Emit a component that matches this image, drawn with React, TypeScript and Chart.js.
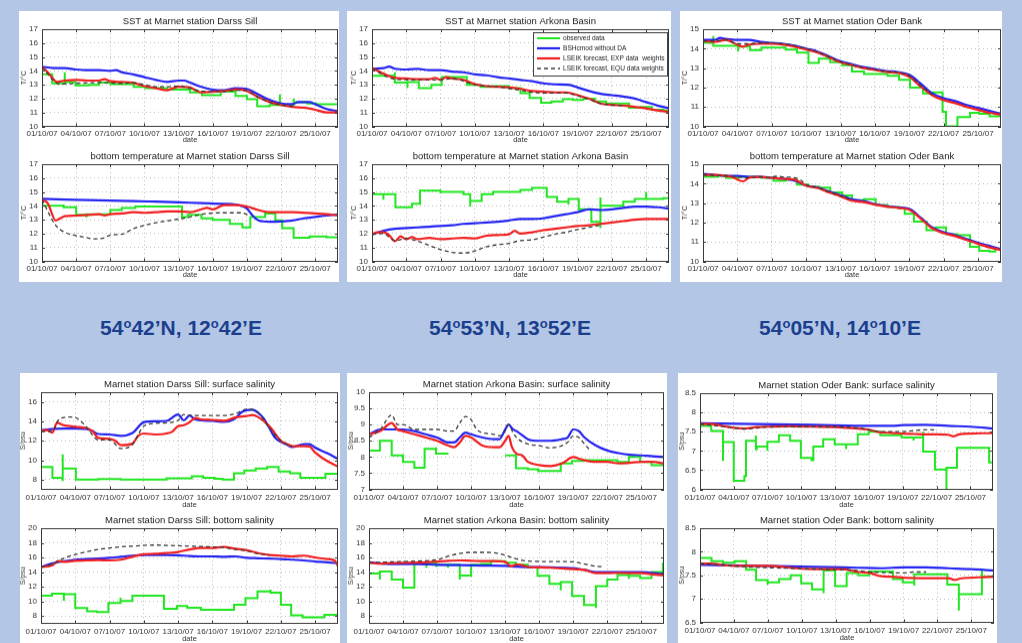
import React, { useEffect, useRef } from "react";
import { Chart, registerables } from "chart.js";

Chart.register(...registerables);

type Pt = [number, number | null];

const FONT = '"Liberation Sans", Arial, Helvetica, sans-serif';

// ---------- axis / label data ----------
const DAY_TICKS = [0, 3, 6, 9, 12, 15, 18, 21, 24];
const DAY_LABELS = ["01/10/07", "04/10/07", "07/10/07", "10/10/07", "13/10/07", "16/10/07", "19/10/07", "22/10/07", "25/10/07"];
const SERIES_NAMES = ["observed data", "BSHcmod without DA", "LSEIK forecast, EXP data  weights", "LSEIK forecast, EQU data weights"];

const TICKS_T17 = [10, 11, 12, 13, 14, 15, 16, 17];
const TICKS_T15 = [10, 11, 12, 13, 14, 15];
const TICKS_S17 = [8, 10, 12, 14, 16];
const TICKS_S20 = [8, 10, 12, 14, 16, 18, 20];
const TICKS_S10 = [7, 7.5, 8, 8.5, 9, 9.5, 10];
const TICKS_S85 = [6, 6.5, 7, 7.5, 8, 8.5];
const TICKS_S85B = [6.5, 7, 7.5, 8, 8.5];

// ---------- Darss Sill SST ----------
const darssSstObs: Pt[] = [[0,13.75],[0.9,13.1],[2,13.1],[2,13.9],[2,13.2],[2.95,12.95],[4.1,13.0],[5,13.15],[6,13.05],[8.05,12.85],[9.07,12.75],[11,12.65],[13,12.45],[14.05,12.25],[15.7,12.5],[17,12.2],[18,11.95],[18.9,11.45],[20,11.55],[20.9,11.55],[20.9,12.3],[20.9,11.55],[22.1,11.75],[22.1,12.0],[22.1,11.75],[23.3,11.65],[24.1,11.6],[26,11.6]];
const darssSstBsh: Pt[] = [[0,14.3],[1,14.2],[2,14.2],[3,14.1],[4,14.05],[5,14.05],[6,14.0],[6.5,14.05],[7,13.9],[8,13.75],[9,13.55],[10,13.35],[11,13.2],[12,13.3],[12.5,13.3],[13,13.15],[14,12.85],[15,12.65],[16,12.6],[17,12.75],[18,12.7],[19,12.3],[20,11.9],[21,11.65],[22,11.6],[22.5,11.75],[23.5,11.75],[24,11.6],[25,11.25],[26,11.1]];
const darssSstExp: Pt[] = [[0,14.3],[0.5,13.9],[1,13.4],[1.3,13.2],[2,13.3],[3,13.35],[4,13.3],[5,13.3],[5.5,13.4],[6,13.25],[7,13.2],[8,13.15],[9,12.9],[10,12.75],[11,12.6],[11.5,12.75],[12,12.85],[13,12.8],[13.5,12.6],[14,12.45],[15,12.5],[16,12.55],[17,12.65],[18,12.55],[19,12.1],[20,11.75],[21,11.55],[22,11.4],[23,11.35],[24,11.2],[25,11.0],[25.7,11.0],[26,11.05]];
const darssSstEqu: Pt[] = [[0,14.3],[1,13.3],[1.5,13.05],[3,13.1],[5,13.15],[7,13.1],[8,13.15],[9,13.0],[10,12.85],[11,12.85],[12,12.9],[13,12.75],[14,12.55],[16,12.5],[17,12.6],[18,12.55],[19,12.1],[20,11.75],[21,11.55],[22,11.45]];

// ---------- Darss Sill bottom temperature ----------
const darssBtObs: Pt[] = [[0,14.0],[1.9,14.0],[1.9,14.1],[1.9,13.9],[3.0,13.35],[3.9,13.35],[3.9,13.15],[3.9,13.4],[6.0,13.7],[7.0,13.85],[8.2,13.95],[12.3,13.2],[12.8,13.35],[14.0,13.1],[15.0,13.0],[16.5,12.7],[17.6,12.45],[18.3,13.2],[19.6,13.45],[20.5,12.95],[21.1,12.4],[22.1,11.7],[23.5,11.8],[25.0,11.75],[26,11.75]];
const darssBtBsh: Pt[] = [[0,14.5],[2,14.45],[5,14.4],[8,14.35],[10,14.3],[12,14.25],[14,14.2],[16,14.15],[17,14.1],[17.5,14.0],[18,13.8],[18.5,13.3],[19,12.95],[20,12.85],[21,12.88],[22,12.95],[23,13.1],[24,13.2],[25,13.3],[26,13.38]];
const darssBtExp: Pt[] = [[0,14.45],[0.5,14.2],[1.2,12.95],[1.6,13.1],[2,13.25],[3,13.3],[4,13.35],[5,13.4],[5.5,13.3],[6,13.4],[7,13.45],[8,13.55],[9,13.5],[10,13.55],[11,13.6],[12,13.6],[13,13.55],[14,13.75],[14.5,13.85],[15,13.75],[16,14.05],[17,14.05],[18,13.95],[19,13.7],[20,13.55],[22,13.55],[24,13.45],[25,13.4],[26,13.3]];
const darssBtEqu: Pt[] = [[0,14.45],[1.2,12.6],[2,12.1],[3,11.85],[4,11.7],[4.5,11.62],[5.5,11.7],[6,11.9],[7,11.95],[8,12.35],[9.5,12.7],[10.5,12.85],[12,13.05],[13,13.2],[13.5,13.3],[14.5,13.45],[16,13.5],[17.5,13.5],[18.2,13.3]];

// ---------- Arkona Basin SST ----------
const arkonaSstObs: Pt[] = [[0,13.65],[2.0,13.65],[2.0,13.9],[2.0,13.15],[3.1,13.15],[3.1,12.75],[3.1,13.2],[4.1,12.75],[5.2,13.0],[6.1,13.55],[8.3,13.0],[9.5,12.85],[10.5,12.9],[12,12.75],[13,12.4],[13.8,12.05],[14.8,11.7],[15.7,11.8],[16.7,11.95],[17.6,11.9],[18.5,12.0],[19.5,11.8],[20.5,11.65],[21.5,11.65],[22.5,11.35],[23.5,11.4],[24.5,11.2],[25.5,11.15],[26,11.15]];
const arkonaSstBsh: Pt[] = [[0,14.15],[1,14.2],[1.5,14.3],[2,14.15],[3,14.1],[4,14.15],[5,14.05],[6,14.05],[7,13.95],[8,13.9],[9,13.75],[10,13.68],[11,13.55],[12,13.45],[13,13.35],[14,13.25],[15,13.1],[16,13.03],[17,13.0],[17.5,12.95],[18,12.8],[19,12.55],[20,12.35],[21,12.25],[22,12.15],[23,12.0],[24,11.75],[25,11.5],[26,11.3]];
const arkonaSstExp: Pt[] = [[0,14.2],[1,13.8],[2,13.5],[3,13.45],[4,13.4],[5,13.4],[5.5,13.5],[6,13.35],[6.5,13.55],[7,13.45],[8,13.35],[9,13.05],[10,12.9],[11,12.85],[12,12.8],[13,12.7],[14,12.55],[15,12.5],[16,12.45],[17,12.45],[18,12.25],[19,12.0],[20,11.65],[21,11.55],[22,11.5],[23,11.4],[24,11.3],[25,11.15],[26,11.05]];
const arkonaSstEqu: Pt[] = [[0,14.2],[1,13.7],[2,13.4],[4,13.35],[6,13.35],[7,13.45],[9,13.0],[11,12.85],[13,12.6],[14,12.45],[16,12.4],[17,12.4],[18,12.2],[19,11.95],[20,11.65],[21,11.55],[22,11.5]];

// ---------- Arkona Basin bottom temperature ----------
const arkonaBtObs: Pt[] = [[0,14.85],[1.0,14.85],[1.0,14.45],[1.0,14.85],[2.05,13.9],[3.5,14.15],[4.2,15.1],[6.0,15.05],[6.0,14.9],[6.0,15.0],[7.0,15.0],[8.0,14.85],[8.6,14.3],[8.6,13.95],[8.6,14.35],[9.6,14.85],[10.6,15.0],[13.0,15.15],[14.0,15.3],[15.3,14.65],[16.2,14.3],[17.2,14.3],[17.2,14.1],[17.2,14.5],[18.1,13.75],[18.1,14.0],[18.1,13.75],[19.2,12.85],[20.0,12.85],[20.0,14.6],[20.0,12.4],[20.0,14.0],[21.1,14.0],[22.0,14.3],[23.0,14.5],[24.0,14.65],[24.0,15.0],[24.0,14.5],[25.5,14.55],[26,14.7]];
const arkonaBtBsh: Pt[] = [[0,11.95],[1,12.2],[2,12.35],[3,12.4],[4,12.45],[5,12.5],[6,12.55],[7,12.6],[8,12.7],[9,12.75],[10,12.8],[11,12.85],[12,12.95],[13,13.05],[14,13.05],[15,13.1],[16,13.25],[17,13.4],[18,13.55],[19,13.75],[20,13.7],[21,13.75],[22,13.85],[23,13.95],[24,13.95],[25,13.9],[26,13.8]];
const arkonaBtExp: Pt[] = [[0,11.95],[0.5,12.1],[1,12.1],[1.5,11.9],[2,11.45],[2.5,11.8],[3,11.6],[3.5,11.75],[4,11.6],[5,11.7],[6,11.6],[7,11.65],[8,11.7],[9,11.65],[10,11.85],[11,11.9],[12,11.95],[12.5,12.2],[13,12.0],[14,12.1],[15,12.25],[16,12.35],[17,12.45],[18,12.55],[19,12.6],[20,12.7],[21,12.8],[22,12.9],[23,13.0],[24,13.05],[25,13.05],[26,13.05]];
const arkonaBtEqu: Pt[] = [[0,11.95],[1,12.0],[2,11.5],[3,11.65],[4,11.45],[5,11.15],[6,10.85],[7,10.65],[8,10.6],[9,10.75],[10,11.05],[11,11.2],[12,11.3],[13,11.5],[14,11.55],[15,11.75],[16,11.95],[17,12.1],[18,12.3],[19,12.45],[20,12.6]];

// ---------- Oder Bank SST ----------
const oderSstObs: Pt[] = [[0,14.3],[0.9,14.3],[0.9,14.65],[0.9,14.15],[3.07,14.15],[3.07,13.85],[3.07,14.1],[4.1,13.92],[5.1,14.05],[6.15,14.05],[7.2,13.95],[8.2,13.8],[9.2,13.26],[10.1,13.49],[11.1,13.3],[12.15,13.15],[13.0,12.83],[14.05,12.7],[15.07,12.7],[16.1,12.6],[17.1,12.4],[18.06,12.0],[19.2,11.7],[20.05,11.75],[20.9,10.75],[21.2,10.0],[22.2,10.48],[23.3,10.7],[24.1,10.65],[25.0,10.52],[26,10.5]];
const oderSstBsh: Pt[] = [[0,14.45],[1,14.45],[1.5,14.55],[2,14.5],[3,14.45],[4,14.45],[5,14.35],[6,14.3],[7,14.25],[8,14.15],[9,14.0],[10,13.85],[11,13.6],[12,13.35],[13,13.2],[14,13.05],[15,12.95],[16,12.85],[17,12.8],[18,12.65],[19,12.2],[20,11.7],[21,11.45],[22,11.3],[23,11.1],[24,10.95],[25,10.8],[26,10.65]];
const oderSstExp: Pt[] = [[0,14.4],[1,14.35],[2,14.45],[3,14.2],[3.5,14.1],[4,14.2],[5,14.25],[6,14.25],[7,14.2],[8,14.1],[9,13.95],[10,13.8],[11,13.55],[12,13.3],[13,13.15],[14,13.0],[15,12.9],[16,12.8],[17,12.75],[18,12.55],[19,12.05],[20,11.6],[21,11.35],[22,11.2],[23,11.0],[24,10.85],[25,10.7],[26,10.6]];
const oderSstEqu: Pt[] = [[0,14.4],[1,14.4],[2,14.45],[3,14.25],[4,14.25],[5,14.3],[6,14.3],[7,14.25],[8,14.15],[9,14.0],[10,13.82],[11,13.58],[12,13.32],[13,13.17],[14,13.02],[15,12.92],[16,12.82],[17,12.77],[18,12.6],[19,12.1],[20,11.62]];

// ---------- Oder Bank bottom temperature ----------
const oderBtObs: Pt[] = [[0,14.35],[1.3,14.4],[2,14.3],[3.1,14.35],[5.1,14.3],[6.15,14.15],[7.2,14.2],[8.2,13.95],[9.2,13.85],[10.1,13.8],[11.1,13.55],[12.15,13.4],[13.0,13.15],[14.05,13.2],[15.07,12.9],[16.1,12.8],[17.1,12.75],[17.6,12.45],[18.4,12.05],[19.5,11.6],[20.3,11.75],[21.2,11.4],[22.2,11.35],[23.3,10.75],[24.1,10.55],[25,10.5],[25.5,10.65],[26,10.55]];
const oderBtBsh: Pt[] = [[0,14.5],[1,14.45],[2,14.4],[3,14.4],[4,14.35],[5,14.35],[6,14.3],[7,14.25],[8,14.15],[9,13.9],[10,13.8],[11,13.6],[12,13.4],[13,13.2],[14,13.1],[15,12.95],[16,12.85],[17,12.78],[18,12.7],[19,12.25],[20,11.75],[21,11.5],[22,11.35],[23,11.15],[24,10.95],[25,10.8],[26,10.62]];
const oderBtExp: Pt[] = [[0,14.45],[1,14.45],[2,14.4],[2.5,14.35],[3.5,14.12],[4,14.3],[5,14.35],[6,14.3],[7,14.25],[8,14.2],[9,13.9],[10,13.78],[11,13.55],[12,13.35],[13,13.12],[14,13.05],[15,12.92],[16,12.82],[17,12.75],[18,12.65],[19,12.2],[20,11.7],[21,11.45],[22,11.3],[23,11.1],[24,10.9],[25,10.72],[26,10.58]];
const oderBtEqu: Pt[] = [[0,14.45],[2,14.4],[3,14.35],[4,14.3],[5,14.35],[6,14.35],[6.5,14.38],[7,14.35],[8,14.3],[8.5,14.2],[9,13.95],[10,13.8],[11,13.58],[12,13.38],[13,13.15]];

// ---------- Darss Sill surface salinity ----------
const darssSsObs: Pt[] = [[0,9.3],[1,8.2],[1.9,8.2],[1.9,10.6],[1.9,7.85],[1.9,9.15],[3.05,9.0],[3.05,8.0],[5,8.05],[7,8.0],[10.5,8.0],[11,8.15],[13.2,8.35],[14.2,8.2],[15.2,8.1],[15.9,8.0],[16.9,8.65],[17.8,8.95],[18.8,9.15],[19.8,9.3],[20.8,8.85],[21.8,8.65],[22.7,8.2],[24.9,8.6],[26,8.6]];
const darssSsBsh: Pt[] = [[0,13.1],[1,13.2],[2,13.25],[3,13.25],[4,13.2],[4.5,13.0],[5,12.7],[6,12.65],[7,12.5],[8,12.8],[9,13.9],[10,14.0],[11,14.05],[12,14.7],[12.5,14.1],[13,14.6],[13.5,14.2],[14,14.1],[15,14.05],[16,13.95],[17,14.3],[17.5,14.9],[18,15.15],[18.5,15.2],[19,14.9],[19.5,14.3],[20,13.3],[20.5,12.3],[21,11.9],[21.5,11.6],[22,11.35],[23,11.65],[23.5,11.65],[24,11.3],[25,10.75],[26,10.15]];
const darssSsExp: Pt[] = [[0,13.0],[0.5,13.1],[1,12.85],[1.4,13.85],[2,13.6],[3,13.45],[4,13.3],[4.5,13.0],[5,12.3],[6,12.2],[6.5,12.0],[7,11.55],[8,11.7],[8.5,12.5],[9,12.75],[10,12.65],[11,12.75],[11.5,12.95],[12,13.5],[12.5,13.6],[13,13.9],[13.5,14.35],[14,14.2],[15,14.15],[16,14.05],[17,14.4],[18,14.55],[18.5,14.65],[19,14.45],[20,13.5],[21,12.0],[21.5,11.7],[22,11.45],[23,11.45],[23.5,11.4],[24,10.8],[25,9.95],[26,9.35]];
const darssSsEqu: Pt[] = [[0,12.95],[1,12.95],[1.5,14.1],[2,14.4],[2.5,14.45],[3,14.4],[3.5,14.0],[4,13.4],[5,12.1],[6,12.1],[7,11.2],[8,11.6],[9,13.5],[10,13.8],[11,13.85],[12,14.1],[12.5,14.7],[13,14.6],[14,14.6],[15,14.6],[16,14.6],[17,14.8],[18,15.25],[19,14.9],[20,13.3],[21,12.0],[22,11.4]];

// ---------- Darss Sill bottom salinity ----------
const darssBsObs: Pt[] = [[0,10.8],[0.96,11.05],[2,11.05],[2,10.1],[2,11.0],[3,9.1],[4.04,8.65],[4.9,8.55],[5.9,9.77],[6.96,10.05],[6.96,10.5],[6.96,10.05],[8,10.8],[10.76,9.0],[11.9,9.36],[12.8,9.14],[14,8.86],[16.9,9.55],[17.9,10.45],[18.95,11.36],[20.1,11.18],[20.1,11.6],[20.1,11.18],[21,9.55],[21.9,8.1],[22.9,7.82],[24.8,8.18],[26,8.2]];
const darssBsBsh: Pt[] = [[0,14.7],[1,15.2],[2,15.5],[3,15.7],[4,15.8],[5,15.85],[6,15.95],[7,16.1],[8,16.25],[9,16.35],[10,16.35],[11,16.35],[12,16.3],[13,16.2],[14,16.15],[15,16.15],[16,16.1],[17,16.15],[18,15.95],[19,15.9],[20,15.85],[21,15.8],[22,15.7],[23,15.6],[24,15.45],[25,15.35],[26,15.2]];
const darssBsExp: Pt[] = [[0,14.7],[1,14.95],[1.5,15.5],[2,15.4],[3,15.55],[4,15.6],[5,15.65],[6,15.6],[7,15.7],[8,16.1],[9,16.45],[10,16.5],[11,16.6],[12,16.75],[13,17.1],[14,17.3],[15,17.3],[16,17.45],[17,17.2],[18,17.0],[19,16.6],[20,16.35],[21,16.25],[22,16.15],[23,16.25],[24,16.0],[25,15.8],[25.7,15.6],[26,14.8]];
const darssBsEqu: Pt[] = [[0,14.7],[1,15.1],[2,15.9],[3,16.4],[4,16.8],[5,17.1],[6,17.3],[7,17.45],[8,17.55],[9,17.65],[10,17.7],[11,17.65],[12,17.6],[13,17.55],[14,17.5],[15,17.45],[16,17.35],[17,17.1],[18,16.9],[19,16.5],[20,16.3]];

// ---------- Arkona Basin surface salinity ----------
const arkonaSsObs: Pt[] = [[0,8.2],[0.96,8.5],[2.0,8.05],[3.0,7.85],[4.0,7.67],[4.9,8.25],[5.9,8.3],[5.9,8.1],[7.0,8.1],[7.0,null],[12.0,null],[12.0,8.05],[12.95,7.65],[14.0,7.62],[14.9,7.57],[16.9,7.8],[17.9,7.88],[18.9,7.9],[21.9,7.85],[22.9,8.0],[23.9,7.85],[24.9,7.75],[26,7.75]];
const arkonaSsBsh: Pt[] = [[0,8.7],[1,8.85],[2,8.85],[3,8.85],[4,8.8],[5,8.7],[6,8.6],[7,8.45],[7.5,8.45],[8,8.6],[8.5,8.75],[9,8.7],[10,8.6],[11,8.55],[11.5,8.55],[12,8.85],[12.3,9.0],[12.7,8.85],[13,8.8],[14,8.55],[15,8.5],[16,8.5],[17,8.55],[17.5,8.6],[18,8.85],[18.5,8.8],[19,8.6],[20,8.35],[21,8.2],[22,8.12],[23,8.07],[24,8.05],[25,8.02],[26,8.0]];
const arkonaSsExp: Pt[] = [[0,8.7],[1,8.8],[2,9.05],[2.5,8.85],[3,8.8],[4,8.7],[5,8.6],[6,8.5],[7,8.35],[7.5,8.3],[8,8.45],[8.5,8.65],[9,8.6],[10,8.35],[11,8.3],[11.5,8.3],[12,8.5],[12.3,8.65],[12.6,8.3],[13,8.1],[13.5,8.05],[14,7.85],[15,7.75],[16,7.72],[17,7.8],[18,8.0],[18.5,7.95],[19,7.9],[20,7.85],[21,7.85],[22,7.8],[23,7.82],[24,7.85],[25,7.85],[26,7.8]];
const arkonaSsEqu: Pt[] = [[0,8.6],[1,8.85],[2,9.3],[2.5,9.0],[3,9.0],[4,8.85],[5,8.85],[6,8.85],[7,8.8],[7.5,8.8],[8,9.05],[8.5,9.25],[9,9.15],[9.5,8.85],[10,8.75],[11,8.7],[11.5,8.65],[12,8.8],[12.3,9.0],[12.7,8.75],[13,8.6],[14,8.4],[15,8.35],[16,8.28],[17,8.35],[17.5,8.45],[18,8.65],[18.5,8.6],[19,8.4],[19.5,8.2]];

// ---------- Arkona Basin bottom salinity ----------
const arkonaBsObs: Pt[] = [[0,13.8],[0.96,13.8],[0.96,13.0],[0.96,14.1],[2.0,13.0],[3.0,11.9],[4.0,15.3],[5.06,15.0],[5.06,14.6],[5.06,15.2],[5.94,14.7],[5.94,15.4],[5.94,15.0],[6.96,14.6],[6.96,15.0],[8.0,13.55],[8.0,13.0],[8.0,13.55],[9.0,15.0],[9.9,15.1],[10.76,15.5],[12.0,15.3],[12.95,15.0],[14.0,14.65],[14.85,13.5],[15.9,12.4],[16.9,12.65],[16.9,11.5],[16.9,12.65],[17.9,10.75],[18.95,9.5],[20.0,9.1],[20.0,12.1],[21.0,13.0],[21.9,13.6],[22.9,13.5],[22.9,13.1],[22.9,13.5],[23.9,13.2],[24.9,14.0],[25.9,14.0],[25.9,15.3]];
const arkonaBsBsh: Pt[] = [[0,15.35],[2,15.1],[4,15.1],[6,15.0],[8,14.95],[10,14.9],[12,14.85],[13,14.75],[14,14.7],[16,14.65],[18,14.55],[19,14.3],[20,14.0],[22,14.0],[24,14.0],[26,13.7]];
const arkonaBsExp: Pt[] = [[0,15.3],[1,15.15],[2,15.25],[4,15.3],[5,15.35],[6,15.45],[7,15.55],[8,15.6],[9,15.55],[10,15.5],[11,15.5],[12,15.4],[12.5,14.8],[13,15.05],[13.5,14.95],[14,14.7],[15,14.65],[16,14.6],[17,14.5],[18,14.4],[19,14.3],[20,13.85],[21,13.85],[22,13.9],[23,13.85],[24,13.85],[25,13.7],[26,13.55]];
const arkonaBsEqu: Pt[] = [[0,15.3],[2,15.4],[4,15.5],[6,15.7],[7,16.2],[8,16.55],[9,16.7],[10,16.7],[11,16.65],[12,16.3],[13,15.8],[14,15.5],[16,15.45],[18,15.4],[19,15.1],[20,14.8],[20.5,14.75]];

// ---------- Oder Bank surface salinity ----------
const oderSsObs: Pt[] = [[0,7.82],[0,7.65],[1.0,7.52],[2.04,7.52],[2.04,6.74],[2.04,7.23],[3.0,6.22],[3.94,6.35],[4.08,7.26],[4.96,7.26],[4.96,7.4],[4.96,7.05],[5.04,7.11],[5.98,7.11],[5.98,7.0],[5.98,7.24],[7.0,7.41],[8.0,7.26],[8.95,6.82],[9.9,6.76],[10.06,7.11],[10.93,7.3],[11.95,7.17],[12.97,7.17],[12.97,7.05],[12.97,7.17],[14.0,7.43],[14.96,7.5],[16.0,7.41],[17.9,7.35],[18.95,7.35],[18.95,7.27],[18.95,7.35],[19.8,7.35],[19.8,7.5],[19.8,6.98],[20.85,6.52],[21.87,6.52],[21.87,6.0],[21.87,6.56],[22.8,7.08],[25.66,7.08],[25.66,6.7],[26,6.7]];
const oderSsBsh: Pt[] = [[0,7.72],[5,7.7],[10,7.68],[15,7.65],[17,7.65],[18,7.67],[20,7.68],[22,7.65],[24,7.63],[26,7.58]];
const oderSsExp: Pt[] = [[0,7.7],[1,7.7],[2,7.65],[3,7.6],[4,7.58],[5,7.62],[6,7.63],[8,7.64],[10,7.63],[12,7.62],[13,7.6],[14,7.58],[15,7.55],[16,7.48],[17,7.47],[18,7.45],[19,7.44],[20,7.43],[21,7.43],[22,7.42],[22.5,7.38],[23,7.43],[24,7.45],[25,7.46],[26,7.46]];
const oderSsEqu: Pt[] = [[0,7.7],[3,7.6],[4,7.57],[6,7.62],[10,7.63],[14,7.6],[15,7.55],[16,7.5],[18,7.5],[19,7.53],[20,7.55],[21,7.55]];

// ---------- Oder Bank bottom salinity ----------
const oderBsObs: Pt[] = [[0,7.87],[1.02,7.8],[2.04,7.77],[3.06,7.8],[4.08,7.62],[4.96,7.4],[5.98,7.4],[5.98,7.3],[5.98,7.35],[7.0,7.42],[8.02,7.5],[8.95,7.33],[9.91,7.2],[10.93,7.12],[10.93,7.6],[11.95,7.27],[12.97,7.55],[14.0,7.5],[14.96,7.58],[17.06,7.42],[17.93,7.35],[18.95,7.28],[18.95,7.52],[21.87,7.5],[21.87,7.3],[22.89,7.08],[22.89,6.75],[22.89,7.1],[24.93,7.1],[24.93,7.6],[24.93,7.47],[26,7.47]];
const oderBsBsh: Pt[] = [[0,7.72],[5,7.7],[10,7.68],[14,7.66],[16,7.65],[18,7.67],[20,7.67],[22,7.65],[24,7.63],[26,7.6]];
const oderBsExp: Pt[] = [[0,7.75],[1,7.75],[2,7.72],[3,7.7],[4,7.7],[6,7.7],[8,7.66],[10,7.63],[12,7.63],[13,7.62],[14,7.57],[15,7.55],[16,7.48],[17,7.47],[18,7.45],[20,7.44],[22,7.44],[22.5,7.4],[23,7.43],[24,7.45],[25,7.46],[26,7.47]];
const oderBsEqu: Pt[] = [[0,7.75],[2,7.72],[4,7.68],[8,7.65],[12,7.62],[14,7.6],[15,7.57],[16,7.56],[18,7.55],[19,7.57],[20,7.57]];

// ---------- layout (styles, not data) ----------
const BG = "#b3c6e6";
const TP = 22; // space above plot area
const YW = 26; // y axis box width
const RP = 3;  // right padding

const SERIES_STYLE = [
  { color: "#22e622", width: 2, dash: [] as number[], order: 3, stepped: true },
  { color: "#2424f0", width: 2.2, dash: [] as number[], order: 2, stepped: false },
  { color: "#f02020", width: 2.2, dash: [] as number[], order: 1, stepped: false },
  { color: "#3c3c3c", width: 1.3, dash: [4, 3], order: 0, stepped: false },
];

type Panel = {
  title: string; yTitle: string; yMin: number; yMax: number; yTicks: number[];
  area: [number, number, number, number]; series: Pt[][]; labelPad: number; xh: number; legend?: boolean;
};

const PANELS: Panel[] = [
  { title: "SST at Marnet station Darss Sill", yTitle: "T/°C", yMin: 10, yMax: 17, yTicks: TICKS_T17, area: [42, 29, 338, 126], series: [darssSstObs, darssSstBsh, darssSstExp, darssSstEqu], labelPad: 2, xh: 17.5 },
  { title: "bottom temperature at Marnet station Darss Sill", yTitle: "T/°C", yMin: 10, yMax: 17, yTicks: TICKS_T17, area: [42, 164, 338, 261], series: [darssBtObs, darssBtBsh, darssBtExp, darssBtEqu], labelPad: 2, xh: 17.5 },
  { title: "SST at Marnet station Arkona Basin", yTitle: "T/°C", yMin: 10, yMax: 17, yTicks: TICKS_T17, area: [372, 29, 669, 126], series: [arkonaSstObs, arkonaSstBsh, arkonaSstExp, arkonaSstEqu], labelPad: 2, xh: 17.5, legend: true },
  { title: "bottom temperature at Marnet station Arkona Basin", yTitle: "T/°C", yMin: 10, yMax: 17, yTicks: TICKS_T17, area: [372, 164, 669, 261], series: [arkonaBtObs, arkonaBtBsh, arkonaBtExp, arkonaBtEqu], labelPad: 2, xh: 17.5 },
  { title: "SST at Marnet station Oder Bank", yTitle: "T/°C", yMin: 10, yMax: 15, yTicks: TICKS_T15, area: [703, 29, 1001, 126], series: [oderSstObs, oderSstBsh, oderSstExp, oderSstEqu], labelPad: 2, xh: 17.5 },
  { title: "bottom temperature at Marnet station Oder Bank", yTitle: "T/°C", yMin: 10, yMax: 15, yTicks: TICKS_T15, area: [703, 164, 1001, 261], series: [oderBtObs, oderBtBsh, oderBtExp, oderBtEqu], labelPad: 2, xh: 17.5 },
  { title: "Marnet station Darss Sill: surface salinity", yTitle: "S/psu", yMin: 7, yMax: 17, yTicks: TICKS_S17, area: [41, 392, 338, 489], series: [darssSsObs, darssSsBsh, darssSsExp, darssSsEqu], labelPad: 3.5, xh: 19.5 },
  { title: "Marnet station Darss Sill: bottom salinity", yTitle: "S/psu", yMin: 7, yMax: 20, yTicks: TICKS_S20, area: [41, 528, 338, 623], series: [darssBsObs, darssBsBsh, darssBsExp, darssBsEqu], labelPad: 3.5, xh: 19.5 },
  { title: "Marnet station Arkona Basin: surface salinity", yTitle: "S/psu", yMin: 7, yMax: 10, yTicks: TICKS_S10, area: [369, 392, 664, 489], series: [arkonaSsObs, arkonaSsBsh, arkonaSsExp, arkonaSsEqu], labelPad: 3.5, xh: 19.5 },
  { title: "Marnet station Arkona Basin: bottom salinity", yTitle: "S/psu", yMin: 7, yMax: 20, yTicks: TICKS_S20, area: [369, 528, 664, 623], series: [arkonaBsObs, arkonaBsBsh, arkonaBsExp, arkonaBsEqu], labelPad: 3.5, xh: 19.5 },
  { title: "Marnet station Oder Bank: surface salinity", yTitle: "S/psu", yMin: 6, yMax: 8.5, yTicks: TICKS_S85, area: [700, 393, 993, 489], series: [oderSsObs, oderSsBsh, oderSsExp, oderSsEqu], labelPad: 3.5, xh: 19.5 },
  { title: "Marnet station Oder Bank: bottom salinity", yTitle: "S/psu", yMin: 6.5, yMax: 8.5, yTicks: TICKS_S85B, area: [700, 528, 994, 622], series: [oderBsObs, oderBsBsh, oderBsExp, oderBsEqu], labelPad: 3.5, xh: 19.5 },
];

const WHITE_BOXES: [number, number, number, number][] = [
  [19, 11, 339, 282], [347, 11, 671, 282], [680, 11, 1002, 282],
  [20, 373, 340, 643], [347, 373, 667, 643], [678, 373, 997, 643],
];

const COORDS = [
  { deg: ["54", "42’N, 12", "42’E"], cx: 181 },
  { deg: ["54", "53’N, 13", "52’E"], cx: 510 },
  { deg: ["54", "05’N, 14", "10’E"], cx: 840 },
];

const framePlugin = {
  id: "frame",
  afterDraw(chart: any, _args: any, opts: any) {
    const { ctx, chartArea } = chart;
    const { left, top, right, bottom } = chartArea;
    const xs = chart.scales.x;
    const ys = chart.scales.y;
    ctx.save();
    ctx.setLineDash([]);
    ctx.strokeStyle = "#3a3a3a";
    ctx.lineWidth = 1;
    ctx.strokeRect(Math.round(left) + 0.5, Math.round(top) + 0.5, Math.round(right - left) - 1, Math.round(bottom - top) - 1);
    ctx.beginPath();
    for (const t of DAY_TICKS) {
      const px = Math.round(xs.getPixelForValue(t)) + 0.5;
      ctx.moveTo(px, bottom); ctx.lineTo(px, bottom - 3);
      ctx.moveTo(px, top); ctx.lineTo(px, top + 3);
    }
    for (const t of opts.yTicks) {
      const py = Math.round(ys.getPixelForValue(t)) + 0.5;
      ctx.moveTo(left, py); ctx.lineTo(left + 3, py);
      ctx.moveTo(right, py); ctx.lineTo(right - 3, py);
    }
    ctx.stroke();
    ctx.fillStyle = "#1a1a1a";
    ctx.font = `9.5px ${FONT}`;
    ctx.textAlign = "center";
    ctx.textBaseline = "middle";
    ctx.fillText(opts.title, (left + right) / 2, top - 8);
    if (opts.legend) {
      const w = 134, h = 43;
      const bx = Math.round(right - 2 - w), by = Math.round(top + 3);
      ctx.fillStyle = "#ffffff";
      ctx.fillRect(bx, by, w, h);
      ctx.strokeStyle = "#444";
      ctx.lineWidth = 1;
      ctx.strokeRect(bx + 0.5, by + 0.5, w, h);
      SERIES_NAMES.forEach((name, i) => {
        const st = SERIES_STYLE[i];
        const yy = by + 6 + i * 10;
        ctx.strokeStyle = st.color;
        ctx.lineWidth = st.width;
        ctx.setLineDash(st.dash);
        ctx.beginPath();
        ctx.moveTo(bx + 4, yy); ctx.lineTo(bx + 27, yy);
        ctx.stroke();
        ctx.setLineDash([]);
        ctx.fillStyle = "#222";
        ctx.font = `6.6px ${FONT}`;
        ctx.textAlign = "left";
        ctx.textBaseline = "middle";
        ctx.fillText(name, bx + 30, yy);
      });
    }
    ctx.restore();
  },
};

function Plot({ panel }: { panel: Panel }) {
  const ref = useRef<HTMLCanvasElement>(null);
  const [x1, y1, x2, y2] = panel.area;
  const w = x2 - x1 + YW + RP;
  const h = y2 - y1 + TP + panel.xh;
  useEffect(() => {
    if (!ref.current) return;
    const gridCommon = { color: "rgba(0,0,0,0.33)", lineWidth: 0.8, drawTicks: false };
    const chart = new Chart(ref.current, {
      type: "line",
      data: {
        datasets: panel.series.map((s, i) => ({
          label: SERIES_NAMES[i],
          data: s.map(([x, y]) => ({ x, y })),
          borderColor: SERIES_STYLE[i].color,
          backgroundColor: SERIES_STYLE[i].color,
          borderWidth: SERIES_STYLE[i].width,
          borderDash: SERIES_STYLE[i].dash,
          stepped: SERIES_STYLE[i].stepped,
          cubicInterpolationMode: "monotone" as const,
          order: SERIES_STYLE[i].order,
          pointRadius: 0,
          spanGaps: false,
          fill: false,
        })),
      },
      options: {
        animation: false,
        responsive: false,
        maintainAspectRatio: false,
        events: [],
        layout: { padding: { top: TP, right: RP, left: 0, bottom: 0 } },
        plugins: {
          legend: { display: false },
          tooltip: { enabled: false },
          title: { display: false },
          frame: { title: panel.title, yTicks: panel.yTicks, legend: !!panel.legend },
        } as any,
        scales: {
          x: {
            type: "linear",
            min: 0,
            max: 26,
            afterBuildTicks: (ax: any) => { ax.ticks = DAY_TICKS.map((v) => ({ value: v })); },
            afterFit: (s: any) => { s.height = panel.xh; },
            ticks: {
              autoSkip: false, maxRotation: 0, minRotation: 0, padding: panel.labelPad,
              color: "#333", font: { family: FONT, size: 8 },
              callback: (_v: any, i: number) => DAY_LABELS[i],
            },
            grid: gridCommon,
            border: { display: false, dash: [1, 3] },
            title: { display: true, text: "date", padding: 0, color: "#333", font: { family: FONT, size: 7.5 } },
          },
          y: {
            type: "linear",
            min: panel.yMin,
            max: panel.yMax,
            afterBuildTicks: (ax: any) => { ax.ticks = panel.yTicks.map((v) => ({ value: v })); },
            afterFit: (s: any) => { s.width = YW; },
            ticks: { padding: 4, color: "#333", font: { family: FONT, size: 8 }, callback: (v: any) => String(v) },
            grid: gridCommon,
            border: { display: false, dash: [1, 3] },
            title: { display: true, text: panel.yTitle, padding: { top: 4, bottom: 0 }, color: "#333", font: { family: FONT, size: 7 } },
          },
        },
      } as any,
      plugins: [framePlugin],
    });
    return () => chart.destroy();
  }, []);
  return (
    <canvas
      ref={ref}
      width={w}
      height={h}
      style={{ position: "absolute", left: x1 - YW, top: y1 - TP, width: w, height: h }}
    />
  );
}

export default function App() {
  return (
    <div style={{ position: "fixed", left: 0, top: 0, width: 1022, height: 643, background: BG, overflow: "hidden" }}>
      {WHITE_BOXES.map(([a, b, c, d], i) => (
        <div key={"wb" + i} style={{ position: "absolute", left: a, top: b, width: c - a, height: d - b, background: "#ffffff" }} />
      ))}
      {COORDS.map((c, i) => (
        <div
          key={"c" + i}
          style={{
            position: "absolute", left: c.cx - 150, width: 300, top: 311, height: 26, lineHeight: "26px",
            textAlign: "center", fontFamily: FONT, fontWeight: "bold", fontSize: 21, color: "#1b3f8d", whiteSpace: "nowrap",
          }}
        >
          {c.deg[0]}
          <span style={{ fontSize: 13, verticalAlign: 7 }}>o</span>
          {c.deg[1]}
          <span style={{ fontSize: 13, verticalAlign: 7 }}>o</span>
          {c.deg[2]}
        </div>
      ))}
      {PANELS.map((p, i) => (
        <Plot key={"p" + i} panel={p} />
      ))}
    </div>
  );
}
